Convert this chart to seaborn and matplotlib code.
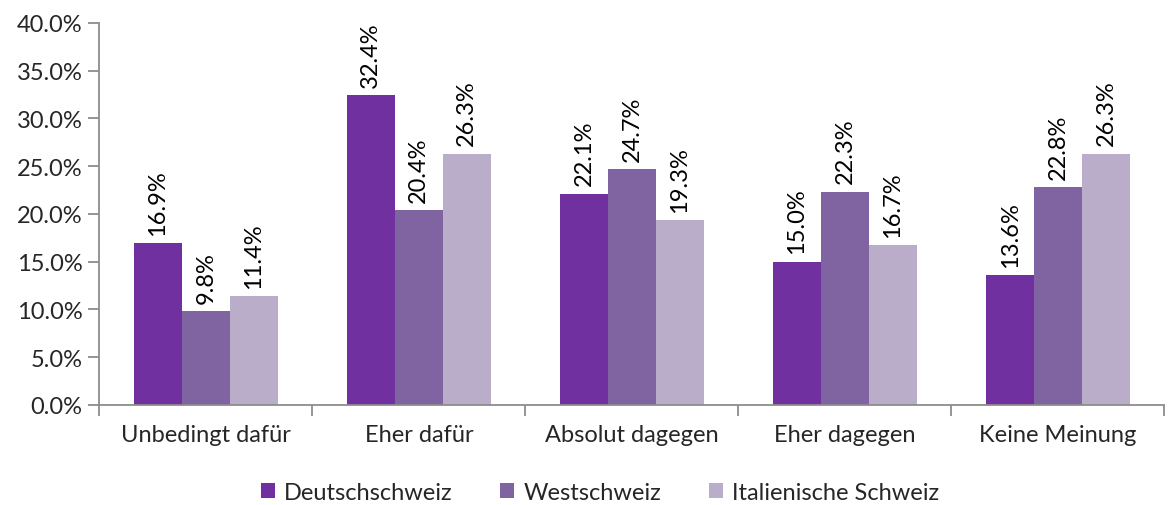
import pandas as pd
import matplotlib
matplotlib.use('Agg')
import matplotlib.pyplot as plt
import seaborn as sns

# Daten
kategorien = ['Unbedingt dafür', 'Eher dafür', 'Absolut dagegen', 'Eher dagegen', 'Keine Meinung']
regionen = ['Deutschschweiz', 'Westschweiz', 'Italienische Schweiz']
deutschschweiz = [16.9, 32.4, 22.1, 15.0, 13.6]
westschweiz = [9.8, 20.4, 24.7, 22.3, 22.8]
italienisch = [11.4, 26.3, 19.3, 16.7, 26.3]
farben = ['#7030A0', '#8064A2', '#B9ADCA']

df = pd.DataFrame({
    'Kategorie': kategorien * 3,
    'Region': [regionen[0]] * 5 + [regionen[1]] * 5 + [regionen[2]] * 5,
    'Wert': deutschschweiz + westschweiz + italienisch,
})

sns.set_style('white')
plt.rcParams['font.family'] = ['Lato', 'DejaVu Sans']
fs = 17

fig = plt.figure(figsize=(11.68, 5.06), dpi=100)
ax = fig.add_axes([0.085, 0.198, 0.912, 0.755])

sns.barplot(data=df, x='Kategorie', y='Wert', hue='Region', palette=farben,
            width=0.675, saturation=1, linewidth=0, ax=ax, legend=True)

for cont in ax.containers:
    for bar in cont:
        h = bar.get_height()
        ax.annotate(f'{h:.1f}%', (bar.get_x() + bar.get_width() / 2, h),
                    xytext=(0, 6), textcoords='offset points',
                    rotation=90, ha='center', va='bottom', fontsize=fs, color='#000000')

ax.set_ylim(0, 40)
ax.set_yticks(range(0, 41, 5))
ax.set_yticklabels([f'{v:.1f}%' for v in range(0, 41, 5)])
ax.set_xlim(-0.5, 4.5)
ax.set_xlabel('')
ax.set_ylabel('')

for s in ['top', 'right']:
    ax.spines[s].set_visible(False)
for s in ['left', 'bottom']:
    ax.spines[s].set_color('#8C8C8C')
    ax.spines[s].set_linewidth(1.3)

ax.tick_params(axis='y', length=8, width=1.3, color='#8C8C8C', labelsize=fs, pad=4, left=True, direction='out')
ax.tick_params(axis='x', which='major', length=0, labelsize=fs, pad=14)
ax.set_xticks([i - 0.5 for i in range(6)], minor=True)
ax.tick_params(axis='x', which='minor', length=8, width=1.3, color='#8C8C8C', bottom=True, direction='out')

ax.legend(loc='upper center', bbox_to_anchor=(0.47, -0.165), ncol=3, frameon=False,
          fontsize=fs, handlelength=0.6, handleheight=0.6, handletextpad=0.4, columnspacing=2.0,
          borderaxespad=0.2)

fig.savefig('out.png', dpi=100)
